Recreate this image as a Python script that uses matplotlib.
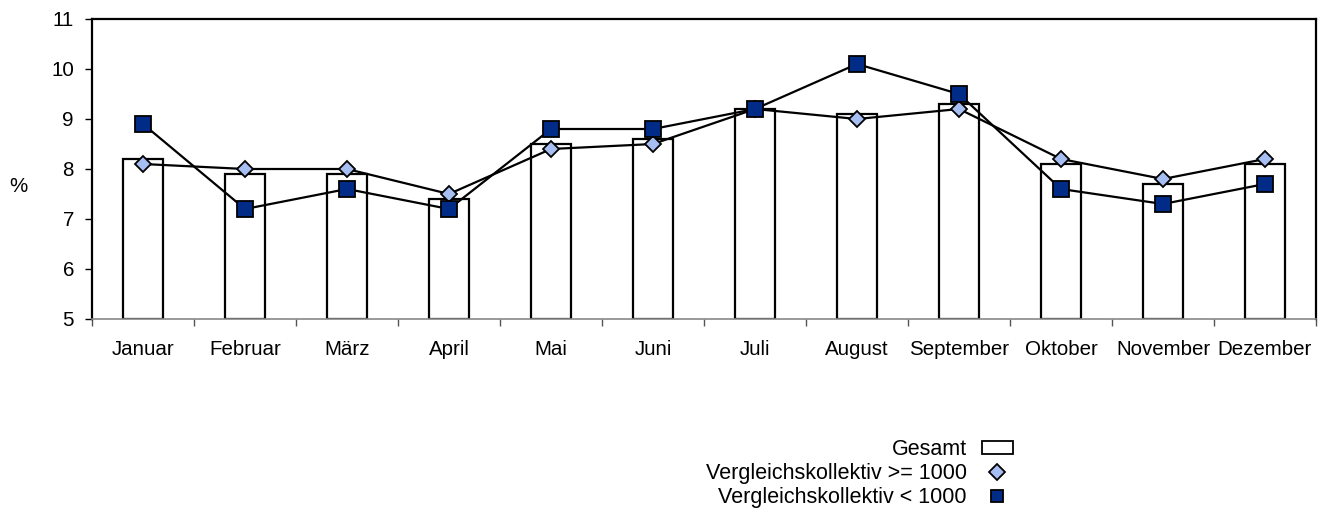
import matplotlib
matplotlib.use("Agg")
import matplotlib.pyplot as plt
import numpy as np
from matplotlib.patches import Patch
from matplotlib.lines import Line2D

months = ["Januar", "Februar", "März", "April", "Mai", "Juni", "Juli",
          "August", "September", "Oktober", "November", "Dezember"]
gesamt = [8.2, 7.9, 7.9, 7.4, 8.5, 8.6, 9.2, 9.1, 9.3, 8.1, 7.7, 8.1]
vk_gross = [8.1, 8.0, 8.0, 7.5, 8.4, 8.5, 9.2, 9.0, 9.2, 8.2, 7.8, 8.2]
vk_klein = [8.9, 7.2, 7.6, 7.2, 8.8, 8.8, 9.2, 10.1, 9.5, 7.6, 7.3, 7.7]

label_gesamt = "Gesamt"
label_gross = "Vergleichskollektiv >= 1000"
label_klein = "Vergleichskollektiv < 1000"

FS = 14.8
plt.rcParams["font.family"] = ["Liberation Sans", "DejaVu Sans"]
plt.rcParams["font.size"] = FS

fig = plt.figure(figsize=(13.32, 5.23), dpi=100)
ax = fig.add_axes([92 / 1332, 1 - 319 / 523, (1316 - 92) / 1332, (319 - 19) / 523])

x = np.arange(len(months))
diamond_color = "#A6BEF2"
square_color = "#002B87"

ax.bar(x, np.array(gesamt) - 5, bottom=5, width=0.4, color="white",
       edgecolor="black", linewidth=1.6, zorder=2)
ax.plot(x, vk_gross, color="black", linewidth=1.6, marker="D", markersize=8.5,
        markerfacecolor=diamond_color, markeredgecolor="black",
        markeredgewidth=1.3, zorder=3)
ax.plot(x, vk_klein, color="black", linewidth=1.6, marker="s", markersize=11.5,
        markerfacecolor=square_color, markeredgecolor="black",
        markeredgewidth=1.3, zorder=4)

ax.set_xlim(-0.5, len(months) - 0.5)
ax.set_ylim(5, 11)
ax.set_yticks(range(5, 12))

# category labels centred, tick marks on category boundaries
ax.set_xticks(x)
ax.set_xticklabels(months)
ax.set_xticks(np.arange(-0.5, len(months)), minor=True)
ax.tick_params(axis="x", which="major", length=0, pad=15)
ax.tick_params(axis="x", which="minor", length=5, width=1, color="#555555")
ax.tick_params(axis="y", length=5, width=1, pad=8)

for side in ["top", "right", "left"]:
    ax.spines[side].set_linewidth(1.6)
ax.spines["bottom"].set_linewidth(1.2)
ax.spines["bottom"].set_color("#888888")

fig.text(18 / 1332, 1 - 187 / 523, "%", ha="center", va="center", fontsize=FS)

handles = [
    Patch(facecolor="white", edgecolor="black", linewidth=1.3),
    Line2D([], [], linestyle="none", marker="D", markersize=8.5,
           markerfacecolor=diamond_color, markeredgecolor="black", markeredgewidth=1.3),
    Line2D([], [], linestyle="none", marker="s", markersize=8,
           markerfacecolor=square_color, markeredgecolor="black", markeredgewidth=1.3),
]
fig.legend(handles, [label_gesamt, label_gross, label_klein],
           loc="upper right", bbox_to_anchor=(1013 / 1332, 1 - 439 / 523),
           markerfirst=False, frameon=False, borderpad=0, borderaxespad=0,
           labelspacing=0.14, handletextpad=0.7, handlelength=1.45,
           handleheight=0.6, fontsize=15.5)

fig.savefig("out.png", dpi=100)
